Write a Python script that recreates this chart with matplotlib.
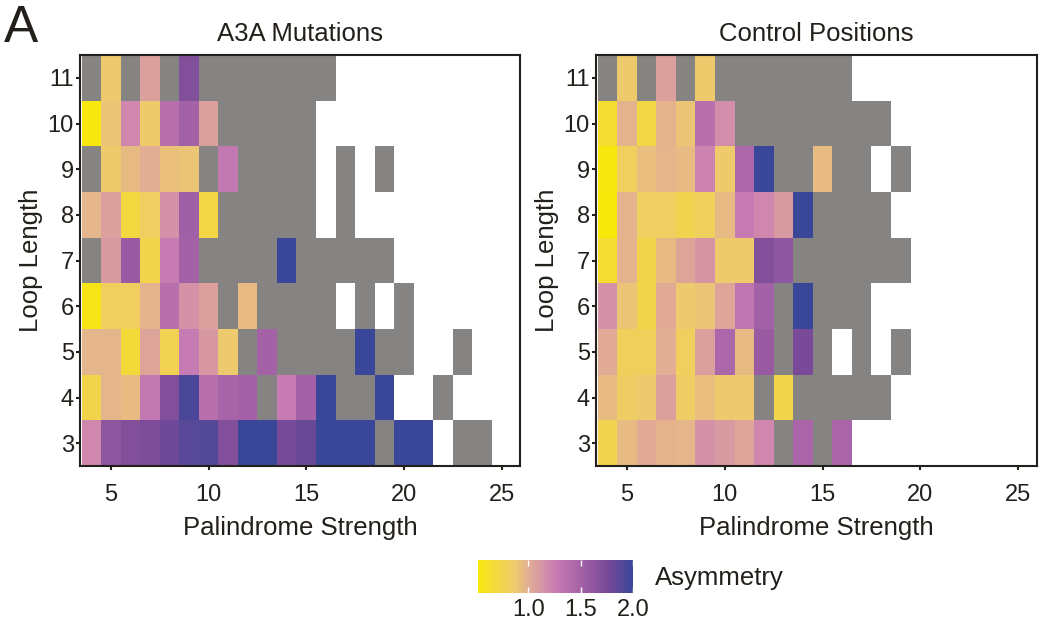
import numpy as np
import matplotlib
matplotlib.use("Agg")
import matplotlib.pyplot as plt
from matplotlib.colors import LinearSegmentedColormap

plt.rcParams['font.family'] = ['Liberation Sans', 'DejaVu Sans']
INK = '#231f1a'

# G = cell present but not significant (gray), W = no data (white)
G = -1.0
W = np.nan

palindrome = list(range(4, 26))
loop_lengths = list(range(3, 12))

# rows listed from loop length 11 down to 3, columns palindrome strength 4..25
a3a_rows = [
    [G, .88, G, 1.07, G, 1.70, G, G, G, G, G, G, G, W, W, W, W, W, W, W, W, W],
    [.52, .90, 1.20, .86, 1.37, 1.50, 1.07, G, G, G, G, G, W, W, W, W, W, W, W, W, W, W],
    [G, .87, .95, 1.00, .92, .90, G, 1.30, G, G, G, G, W, G, W, G, W, W, W, W, W, W],
    [.97, 1.07, .70, .83, 1.15, 1.52, .72, G, G, G, G, G, W, G, W, W, W, W, W, W, W, W],
    [G, 1.10, 1.57, .75, 1.27, 1.50, G, G, G, G, 2.0, G, G, G, G, G, W, W, W, W, W, W],
    [.55, .82, .82, .98, 1.37, 1.15, 1.07, G, .95, G, G, G, G, W, G, W, G, W, W, W, W, W],
    [.97, .97, .68, 1.05, .77, 1.27, 1.12, .88, G, 1.50, G, G, G, G, 2.0, G, G, W, W, G, W, W],
    [.75, .97, .94, 1.30, 1.70, 1.93, 1.37, 1.48, 1.50, G, 1.27, 1.50, 2.0, G, G, 2.0, W, W, G, W, W, W],
    [1.20, 1.63, 1.70, 1.73, 1.80, 1.88, 1.90, 1.70, 2.0, 2.0, 1.77, 1.82, 2.0, 2.0, 2.0, G, 2.0, 2.0, W, G, G, W],
]

control_rows = [
    [G, .87, G, 1.07, G, .87, G, G, G, G, G, G, G, W, W, W, W, W, W, W, W, W],
    [.65, .98, .72, .98, .90, 1.37, 1.17, G, G, G, G, G, G, G, G, W, W, W, W, W, W, W],
    [.52, .82, .93, .97, .94, 1.22, .87, 1.45, 2.0, G, G, .94, G, G, W, G, W, W, W, W, W, W],
    [.50, .98, .83, .83, .76, .81, .95, 1.27, 1.20, 1.10, 2.0, G, G, G, G, W, W, W, W, W, W, W],
    [.65, .98, .75, .95, 1.05, 1.13, .87, .87, 1.70, 1.63, G, G, G, G, G, G, W, W, W, W, W, W],
    [1.15, .90, .75, 1.02, .88, .90, 1.05, 1.32, 1.50, G, 2.0, G, G, G, W, W, W, W, W, W, W, W],
    [1.02, .80, .80, 1.00, .82, 1.07, 1.45, .95, 1.57, G, 1.75, G, W, G, W, G, W, W, W, W, W, W],
    [.94, .84, .88, 1.07, .84, .93, .88, .88, G, .75, G, G, G, G, G, W, W, W, W, W, W, W],
    [.76, .94, 1.02, .98, .97, 1.15, 1.10, 1.04, 1.20, G, 1.47, G, 1.47, W, W, W, W, W, W, W, W, W],
]

panel_titles = ['A3A Mutations', 'Control Positions']
cbar_ticks = [1.0, 1.5, 2.0]

cmap = LinearSegmentedColormap.from_list('asym', [
    (0.0, '#f8e80a'), (0.25, '#eeca6e'), (0.333, '#e2ae94'),
    (0.5, '#ca7db4'), (0.667, '#a462a6'), (0.833, '#7a4a98'), (1.0, '#3a4698')])
cmap.set_under('#858483')
cmap.set_bad('white')

fig = plt.figure(figsize=(10.42, 6.25), dpi=100)
ax_boxes = [[0.0768, 0.2544, 0.4227, 0.6576], [0.572, 0.2544, 0.4233, 0.6576]]

xe = np.arange(palindrome[0] - 0.5, palindrome[-1] + 1.0)
ye = np.arange(loop_lengths[0] - 0.5, loop_lengths[-1] + 1.0)

mesh = None
for box, rows, title in zip(ax_boxes, [a3a_rows, control_rows], panel_titles):
    ax = fig.add_axes(box)
    z = np.ma.masked_invalid(np.array(rows, dtype=float)[::-1])
    mesh = ax.pcolormesh(xe, ye, z, cmap=cmap, vmin=0.5, vmax=2.0)
    ax.set_xlim(3.42, 25.97)
    ax.set_ylim(2.5, 11.5)
    ax.set_xticks([5, 10, 15, 20, 25])
    ax.set_yticks(loop_lengths)
    ax.tick_params(labelsize=17, colors=INK, length=3, width=1.5)
    ax.tick_params(axis='x', pad=10)
    ax.tick_params(axis='y', pad=1.5)
    for s in ax.spines.values():
        s.set_color(INK)
        s.set_linewidth(1.5)
    ax.set_title(title, fontsize=18.5, color=INK, pad=10)
    ax.set_xlabel('Palindrome Strength', fontsize=18.5, color=INK, labelpad=7)
    ax.set_ylabel('Loop Length', fontsize=18.5, color=INK, labelpad=3)

fig.text(0.004, 0.933, 'A', fontsize=37, color=INK)

cax = fig.add_axes([0.4587, 0.0512, 0.1488, 0.0528])
cb = fig.colorbar(mesh, cax=cax, orientation='horizontal', ticks=cbar_ticks)
cb.outline.set_visible(False)
cax.set_xlim(0.52, 2.0)
cax.set_xticklabels(['%.1f' % t for t in cbar_ticks])
cax.tick_params(axis='x', direction='in', length=4, width=1, color='white',
                top=True, labelcolor=INK, labelsize=17, pad=4)
fig.text(0.629, 0.076, 'Asymmetry', fontsize=18.5, color=INK, va='center')

fig.savefig('out.png', dpi=100)
